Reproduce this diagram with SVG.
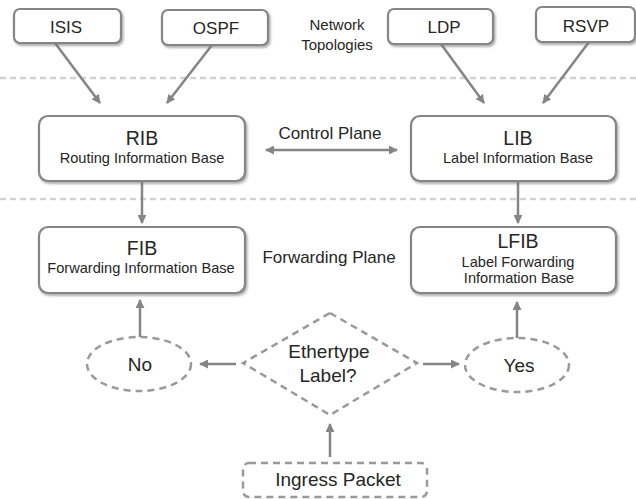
<svg xmlns="http://www.w3.org/2000/svg" width="636" height="499" viewBox="0 0 636 499">
  <defs>
    <filter id="shadow" x="-10%" y="-20%" width="130%" height="150%">
      <feDropShadow dx="1.5" dy="2" stdDeviation="1.2" flood-color="#777" flood-opacity="0.6"/>
    </filter>
    <marker id="head" viewBox="0 0 10 10" refX="9" refY="5" markerWidth="9" markerHeight="9" markerUnits="userSpaceOnUse" orient="auto-start-reverse">
      <path d="M0,0 L10,5 L0,10 z" fill="#858585"/>
    </marker>
    <style>
      .box { fill: #fff; stroke: #858585; stroke-width: 2.2; filter: url(#shadow); }
      .dash { fill: #fff; stroke: #9a9a9a; stroke-width: 2.5; stroke-dasharray: 7 5; }
      .sep { stroke: #d2d2d2; stroke-width: 2.5; stroke-dasharray: 6 4; fill: none; }
      .arr { stroke: #858585; stroke-width: 2.5; fill: none; marker-end: url(#head); }
      .both { marker-start: url(#head); }
      text { font-family: "Liberation Sans", Arial, sans-serif; fill: #262626; text-anchor: middle; }
      .t17 { font-size: 17px; }
      .t15 { font-size: 15px; }
      .big { font-size: 19.5px; }
      .sub { font-size: 14.6px; }
      .dec { font-size: 19px; }
    </style>
  </defs>

  <rect width="636" height="499" fill="#fff"/>

  <!-- plane separators -->
  <g id="separators">
    <line class="sep" x1="0" y1="78" x2="636" y2="78"/>
    <line class="sep" x1="0" y1="199" x2="636" y2="199"/>
  </g>

  <!-- connectors -->
  <g id="connectors">
    <line class="arr" x1="55" y1="43" x2="100" y2="103"/>
    <line class="arr" x1="212" y1="45" x2="167" y2="103"/>
    <line class="arr" x1="441" y1="44" x2="484" y2="103"/>
    <line class="arr" x1="589" y1="42" x2="543" y2="103"/>
    <line class="arr" x1="142" y1="181" x2="142" y2="223"/>
    <line class="arr" x1="518" y1="181" x2="518" y2="223"/>
    <line class="arr both" x1="266" y1="150" x2="397" y2="150"/>
    <line class="arr" x1="140" y1="337" x2="140" y2="300"/>
    <line class="arr" x1="517" y1="338" x2="517" y2="302"/>
    <line class="arr" x1="236" y1="364" x2="200" y2="364"/>
    <line class="arr" x1="423" y1="364" x2="459" y2="364"/>
    <line class="arr" x1="330" y1="457" x2="330" y2="424"/>
  </g>

  <!-- routing protocols -->
  <g id="isis">
    <rect class="box" x="14" y="9" width="107" height="34" rx="6"/>
    <text class="t17" x="66" y="33">ISIS</text>
  </g>
  <g id="ospf">
    <rect class="box" x="162" y="10" width="106" height="35" rx="6"/>
    <text class="t17" x="216" y="34">OSPF</text>
  </g>
  <g id="ldp">
    <rect class="box" x="388" y="9" width="105" height="35" rx="6"/>
    <text class="t17" x="444" y="33">LDP</text>
  </g>
  <g id="rsvp">
    <rect class="box" x="536" y="7" width="99" height="35" rx="6"/>
    <text class="t17" x="586" y="32">RSVP</text>
  </g>
  <g id="topologies">
    <text class="t15" x="337" y="30">Network</text>
    <text class="t15" x="337" y="50">Topologies</text>
  </g>

  <!-- control plane -->
  <g id="rib">
    <rect class="box" x="39" y="116" width="206" height="65" rx="9"/>
    <text class="big" x="142" y="145">RIB</text>
    <text class="sub" x="142" y="163">Routing Information Base</text>
  </g>
  <g id="control-plane">
    <text class="t17" x="330" y="139">Control Plane</text>
  </g>
  <g id="lib">
    <rect class="box" x="411" y="116" width="205" height="65" rx="9"/>
    <text class="big" x="518" y="145">LIB</text>
    <text class="sub" x="518" y="163">Label Information Base</text>
  </g>

  <!-- forwarding plane -->
  <g id="fib">
    <rect class="box" x="39" y="227" width="206" height="66" rx="9"/>
    <text class="big" x="142" y="255">FIB</text>
    <text class="sub" x="141" y="273">Forwarding Information Base</text>
  </g>
  <g id="forwarding-plane">
    <text class="t17" x="329" y="263">Forwarding Plane</text>
  </g>
  <g id="lfib">
    <rect class="box" x="411" y="227" width="205" height="66" rx="9"/>
    <text class="big" x="518" y="248">LFIB</text>
    <text class="sub" x="518" y="267">Label Forwarding</text>
    <text class="sub" x="519" y="283">Information Base</text>
  </g>

  <!-- packet decision -->
  <g id="no">
    <ellipse class="dash" cx="139" cy="364" rx="52" ry="27"/>
    <text class="dec" x="140" y="371">No</text>
  </g>
  <g id="decision">
    <polygon class="dash" points="330,313 417,363 330,415 243,363"/>
    <text class="dec" x="329" y="358">Ethertype</text>
    <text class="dec" x="328" y="382">Label?</text>
  </g>
  <g id="yes">
    <ellipse class="dash" cx="517" cy="365" rx="52" ry="27"/>
    <text class="dec" x="519" y="372">Yes</text>
  </g>
  <g id="ingress">
    <rect class="dash" x="243" y="463" width="184" height="34" rx="6"/>
    <text class="dec" x="338" y="486">Ingress Packet</text>
  </g>
</svg>
